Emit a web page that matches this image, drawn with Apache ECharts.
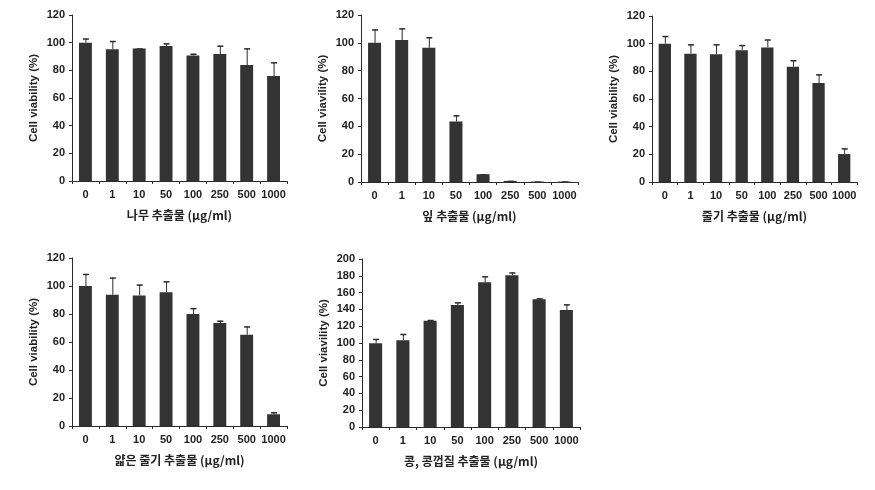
<!DOCTYPE html>
<html><head><meta charset="utf-8">
<script src="https://cdn.jsdelivr.net/npm/echarts@6/dist/echarts.min.js"></script>
<style>html,body{margin:0;padding:0;background:#fff}#c{width:875px;height:490px}</style>
</head><body><div id="c"></div>
<script>
const categories = ['0','1','10','50','100','250','500','1000'];
const woodMean = [100, 95.2, 95.7, 97.6, 90.8, 91.8, 83.9, 75.9];
const woodTop  = [103, 101.2, 95.8, 99.5, 92, 97.8, 95.9, 85.8];
const leafMean = [100, 102, 96.4, 43.5, 5.6, 0.8, 0.3, 0.3];
const leafTop  = [109.6, 110.4, 104, 47.9, 5.6, 0.8, 0.3, 0.3];
const stemMean = [100, 92.8, 92.3, 95.2, 97.3, 83.4, 71.6, 20.2];
const stemTop  = [105.5, 99.5, 99.5, 99, 103, 88, 77.8, 24.3];
const thinMean = [100, 93.8, 93.3, 95.5, 80, 73.5, 65.2, 8.4];
const thinTop  = [108.6, 106, 101, 103.3, 84.2, 75.2, 71.1, 9.8];
const beanMean = [99.6, 103.2, 126.6, 145.2, 172.2, 180.6, 152, 139.3];
const beanTop  = [104.8, 110.7, 127.4, 148.4, 179.4, 184, 153.2, 146];
const xNames = ['나무 추출물 (μg/ml)','잎 추출물 (μg/ml)','줄기 추출물 (μg/ml)','얇은 줄기 추출물 (μg/ml)','콩, 콩껍질 추출물 (μg/ml)'];
const yNames = ['Cell viability (%)','Cell viavility (%)','Cell viability (%)','Cell viability (%)','Cell viavility (%)'];
const yMax = [120,120,120,120,200];
const yInterval = [20,20,20,20,20];

const panels = [
  {m: woodMean, t: woodTop, grid:{left:72, top:15, width:215, height:166}},
  {m: leafMean, t: leafTop, grid:{left:361, top:15, width:217, height:167}},
  {m: stemMean, t: stemTop, grid:{left:652, top:16, width:205, height:166}},
  {m: thinMean, t: thinTop, grid:{left:72, top:258, width:215, height:168}},
  {m: beanMean, t: beanTop, grid:{left:362, top:259, width:218, height:168}}
];
const ink = '#2b2b2b';
const lab = {fontFamily:'Liberation Sans, Arial, sans-serif', fontWeight:'bold', fontSize:11, color:'#222'};
const grids=[], xAxes=[], yAxes=[], series=[];
panels.forEach((p,i)=>{
  grids.push(p.grid);
  xAxes.push({type:'category', gridIndex:i, data:categories,
    axisLine:{lineStyle:{color:ink,width:1}}, axisTick:{show:true, length:3, lineStyle:{color:ink}},
    axisLabel:Object.assign({margin:8, interval:0}, lab),
    name:xNames[i], nameLocation:'middle', nameGap:28,
    nameTextStyle:{fontFamily:'Noto Sans CJK KR, Liberation Sans, sans-serif', fontWeight:'bold', fontSize:12, color:'#222'}});
  yAxes.push({type:'value', gridIndex:i, min:0, max:yMax[i], interval:yInterval[i],
    splitLine:{show:false}, axisLine:{show:true, lineStyle:{color:ink,width:1}},
    axisTick:{show:true, length:3, lineStyle:{color:ink}},
    axisLabel:Object.assign({margin:7}, lab),
    name:yNames[i], nameLocation:'middle', nameGap:32, nameRotate:90,
    nameTextStyle:{fontFamily:'Liberation Sans, Arial, sans-serif', fontWeight:'bold', fontSize:11.5, color:'#222'}});
  series.push({type:'bar', xAxisIndex:i, yAxisIndex:i, data:p.m, barWidth:'48%',
    itemStyle:{color:'#333333'}, silent:true, animation:false});
  series.push({type:'custom', xAxisIndex:i, yAxisIndex:i, silent:true, animation:false, z:1,
    data:p.m.map((v,k)=>[k, v, p.t[k]]),
    renderItem:(params, api)=>{
      const x = api.value(0);
      const a = api.coord([x, api.value(1)]);
      const b = api.coord([x, api.value(2)]);
      const cap = 3;
      return {type:'group', children:[
        {type:'line', shape:{x1:a[0]+0.5, y1:a[1], x2:a[0]+0.5, y2:b[1]}, style:{stroke:ink, lineWidth:1}},
        {type:'line', shape:{x1:a[0]-cap+0.5, y1:b[1]+0.5, x2:a[0]+cap+0.5, y2:b[1]+0.5}, style:{stroke:ink, lineWidth:1.5}}
      ]};
    }});
});
const chart = echarts.init(document.getElementById('c'), null, {renderer:'canvas'});
chart.setOption({animation:false, grid:grids, xAxis:xAxes, yAxis:yAxes, series:series});
</script></body></html>
